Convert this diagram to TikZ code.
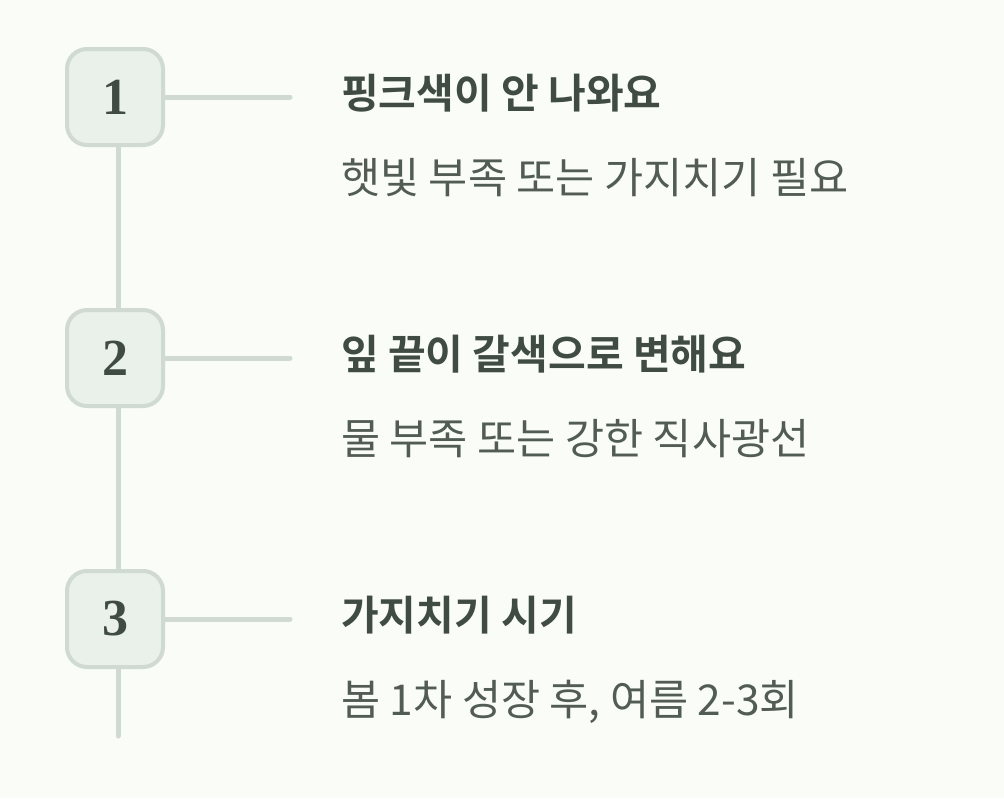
\documentclass[tikz,border=0pt]{standalone}
\usepackage{fontspec}
\newfontfamily\kr{Noto Sans CJK KR}
\newfontfamily\krb{Noto Sans CJK KR Bold}
\newfontfamily\numf{Liberation Serif}
\definecolor{bg}{HTML}{F9FCF7}
\definecolor{ln}{HTML}{D0D9D2}
\definecolor{bx}{HTML}{EAF0EA}
\definecolor{dk}{HTML}{3F4B43}
\definecolor{sub}{HTML}{525C55}
\tikzset{
 numbox/.style={draw=ln,line width=4pt,fill=bx,rounded corners=20pt,minimum size=96pt,inner sep=0pt,text=dk,font=\fontsize{52}{52}\numf\bfseries\selectfont},
 conn/.style={draw=ln,line width=5pt,line cap=round},
 ttl/.style={anchor=base west,inner sep=0pt,text=dk,font=\fontsize{41}{41}\krb\selectfont},
 sbt/.style={anchor=base west,inner sep=0pt,text=sub,font=\fontsize{42.5}{42.5}\kr\selectfont}
}
\begin{document}
\begin{tikzpicture}[x=1pt,y=-1pt]
\fill[bg] (0,0) rectangle (1004,798);
\useasboundingbox (0,0) rectangle (1004,798);
\coordinate (bot) at (118,736);
\node[numbox] (b1) at (115,97) {1};
\node[numbox] (b2) at (115,358) {2};
\node[numbox] (b3) at (115,619) {3};
\coordinate (e1) at (290,97);
\coordinate (e2) at (290,358);
\coordinate (e3) at (290,619);
\draw[conn] (b1.south -| bot) -- (b2.north -| bot);
\draw[conn] (b2.south -| bot) -- (b3.north -| bot);
\draw[conn] (b3.south -| bot) -- (bot);
\draw[conn] (b1.east) -- (e1);
\draw[conn] (b2.east) -- (e2);
\draw[conn] (b3.east) -- (e3);
\node[ttl] (t1) at (341,108) {핑크색이 안 나와요};
\node[ttl] (t2) at (341,369) {잎 끝이 갈색으로 변해요};
\node[ttl] (t3) at (341,630) {가지치기 시기};
\node[sbt] (s1) at (341,193) {햇빛 부족 또는 가지치기 필요};
\node[sbt] (s2) at (341,454) {물 부족 또는 강한 직사광선};
\node[sbt] (s3) at (341,715) {봄 1차 성장 후, 여름 2-3회};
\end{tikzpicture}
\end{document}
